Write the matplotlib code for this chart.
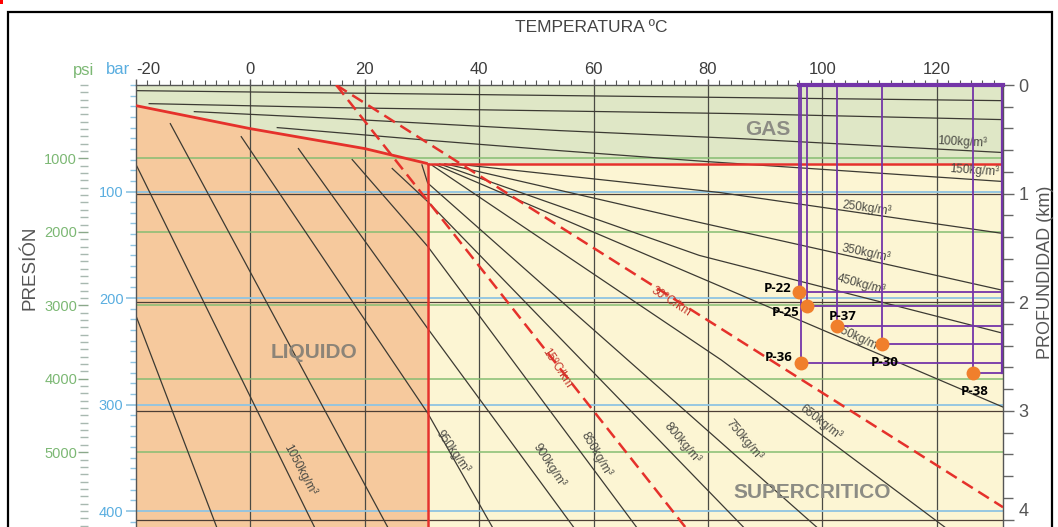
import matplotlib
matplotlib.use("Agg")
import matplotlib.pyplot as plt
from matplotlib.patches import Polygon, Rectangle
from matplotlib.ticker import MultipleLocator, FixedLocator

plt.rcParams['font.family'] = ['Liberation Sans', 'DejaVu Sans']

# ---- axis ranges (temperature in C, pressure in bar) ----
T_MIN, T_MAX = -20.0, 131.6
P_MAX = 415.0
BAR_PER_KM = 102.0
PSI_PER_BAR = 14.5038

# ---- phase boundaries ----
sat_T = [-20.0, 0.0, 20.0, 31.0]
sat_P = [19.4, 41.0, 59.7, 73.8]
crit_T, crit_P = 31.0, 73.8

# ---- geothermal gradients (C/km), surface temperature 15 C ----
surface_T = 15.0
gradients = [15.0, 30.0]

# ---- isochores (T, P) ----
iso_gas_a = [(-20.0, 5.3), (131.6, 14.7)]
iso_gas_b = [(-17.7, 17.5), (15.6, 21.3), (85.5, 26.9), (131.6, 32.5)]
iso_100 = [(-9.8, 25.0), (15.6, 31.6), (54.0, 42.8), (85.5, 50.3), (131.6, 63.4)]
iso_150 = [(4.7, 40.0), (31.8, 52.2), (54.0, 61.6), (79.8, 71.9), (131.6, 90.6)]
iso_250 = [(35.3, 73.8), (82.0, 100.9), (131.6, 139.4)]
iso_350 = [(34.0, 74.0), (78.5, 129.0), (131.6, 192.8)]
iso_450 = [(33.1, 74.2), (78.5, 160.0), (131.6, 233.1)]
iso_550 = [(32.3, 74.6), (80.0, 184.0), (131.6, 302.4)]
iso_650 = [(31.8, 75.5), (82.4, 258.4), (121.4, 415.0)]
iso_750 = [(30.0, 75.0), (31.0, 92.0), (99.0, 415.0)]
iso_800 = [(24.8, 78.4), (31.0, 109.4), (86.2, 415.0)]
iso_850 = [(17.8, 70.0), (31.0, 151.5), (67.5, 415.0)]
iso_900 = [(8.4, 59.7), (31.0, 228.6), (56.5, 415.0)]
iso_950 = [(-1.6, 48.5), (31.0, 308.0), (42.3, 415.0)]
iso_1000 = [(-14.0, 36.3), (24.0, 415.0)]
iso_1050 = [(-19.9, 75.7), (11.2, 415.0)]
iso_1100 = [(-19.9, 218.1), (-5.9, 415.0)]
isochores = [iso_gas_a, iso_gas_b, iso_100, iso_150, iso_250, iso_350, iso_450,
             iso_550, iso_650, iso_750, iso_800, iso_850, iso_900, iso_950,
             iso_1000, iso_1050, iso_1100]

# labels on isochores: text, T, P, angle
iso_labels = [
    ("100kg/m³", 124.5, 53.0, -3),
    ("150kg/m³", 126.5, 80.0, -4),
    ("250kg/m³", 107.8, 116.0, -8),
    ("350kg/m³", 107.7, 158.0, -12),
    ("450kg/m³", 106.8, 187.0, -15),
    ("550kg/m³", 106.2, 237.0, -25),
    ("650kg/m³", 99.7, 317.0, -38),
    ("750kg/m³", 86.4, 333.0, -50),
    ("800kg/m³", 75.6, 336.0, -50),
    ("850kg/m³", 60.5, 347.0, -60),
    ("900kg/m³", 52.3, 357.0, -57),
    ("950kg/m³", 35.5, 344.0, -55),
    ("1050kg/m³", 8.6, 361.0, -62),
]

# ---- wells: name, T (C), P (bar), label offset (px) ----
well_names = ["P-22", "P-25", "P-37", "P-30", "P-36", "P-38"]
well_T = [96.0, 97.4, 102.5, 110.5, 96.2, 126.3]
well_P = [194.7, 207.8, 226.5, 243.4, 261.2, 270.6]
well_offsets = [(-8, 4, 'right'), (-8, -6, 'right'), (-8, 10, 'left'),
                (-12, -18, 'left'), (-8, 6, 'right'), (-12, -18, 'left')]

# ---- colours ----
C_GAS = "#dfe7c6"
C_LIQ = "#f6c99d"
C_SC = "#fcf5d3"
C_RED = "#e5312b"
C_LINE = "#3c3a33"
C_BLUE = "#8fc4e2"
C_GREEN = "#86bd72"
C_DEPTH = "#4d3e35"
C_PURPLE = "#7435a8"
C_ORANGE = "#f07f2c"

W, H = 1058, 527
fig = plt.figure(figsize=(W / 100, H / 100), dpi=100)
ax = fig.add_axes([136 / W, 0.0, (1003 - 136) / W, (H - 85) / H])
ax.set_xlim(T_MIN, T_MAX)
ax.set_ylim(P_MAX, 0)

# region fills
gas_poly = [(T_MIN, 0), (T_MAX, 0), (T_MAX, crit_P)] + \
    list(zip(sat_T[::-1], sat_P[::-1]))
liq_poly = list(zip(sat_T, sat_P)) + [(crit_T, P_MAX), (T_MIN, P_MAX)]
sc_poly = [(crit_T, crit_P), (T_MAX, crit_P), (T_MAX, P_MAX), (crit_T, P_MAX)]
ax.add_patch(Polygon(gas_poly, closed=True, fc=C_GAS, ec='none', zorder=0))
ax.add_patch(Polygon(liq_poly, closed=True, fc=C_LIQ, ec='none', zorder=0))
ax.add_patch(Polygon(sc_poly, closed=True, fc=C_SC, ec='none', zorder=0))

# grid lines
for t in range(0, 121, 20):
    ax.axvline(t, color="#4a4a44", lw=0.9, zorder=1)
for p in [100, 200, 300, 400]:
    ax.axhline(p, color=C_BLUE, lw=1.3, zorder=1)
for psi in [1000, 2000, 3000, 4000, 5000]:
    ax.axhline(psi / PSI_PER_BAR, color=C_GREEN, lw=1.1, zorder=1)
for d in [1, 2, 3, 4]:
    ax.axhline(d * BAR_PER_KM, color=C_DEPTH, lw=0.9, zorder=1)

# isochores
for iso in isochores:
    ts, ps = zip(*iso)
    ax.plot(ts, ps, color=C_LINE, lw=0.9, zorder=2)

# phase boundaries
ax.plot(sat_T, sat_P, color=C_RED, lw=2.0, zorder=3, solid_capstyle='butt')
ax.plot([crit_T, T_MAX], [crit_P, crit_P], color=C_RED, lw=1.8, zorder=3)
ax.plot([crit_T, crit_T], [crit_P, P_MAX], color=C_RED, lw=1.8, zorder=3)

# geothermal gradients
for g in gradients:
    d_end = min(P_MAX / BAR_PER_KM, (T_MAX - surface_T) / g)
    ax.plot([surface_T, surface_T + g * d_end], [0, d_end * BAR_PER_KM],
            color=C_RED, lw=1.8, ls=(0, (5, 2.6)), zorder=3)
ax.text(73.6, 203, "30ºC/km", color="#c4382c", fontsize=8.5, rotation=-33,
        ha='center', va='center', zorder=5)
ax.text(53.5, 266, "15ºC/km", color="#c4382c", fontsize=8.5, rotation=-57,
        ha='center', va='center', zorder=5)

for txt, t, p, ang in iso_labels:
    ax.text(t, p, txt, color="#4a4a44", fontsize=8.6, rotation=ang,
            ha='center', va='center', zorder=5)

# region names
ax.text(90.5, 42, "GAS", color="#8c8c84", fontsize=15, fontweight='bold',
        ha='center', va='center', zorder=5)
ax.text(11.2, 251, "LIQUIDO", color="#8c8478", fontsize=15, fontweight='bold',
        ha='center', va='center', zorder=5)
ax.text(98.2, 383, "SUPERCRITICO", color="#8c8c84", fontsize=15,
        fontweight='bold', ha='center', va='center', zorder=5)

# wells: rectangles to the surface and to the right edge
for t, p in zip(well_T, well_P):
    ax.plot([t, t], [0, p], color=C_PURPLE, lw=1.3, zorder=6)
    ax.plot([t, T_MAX], [p, p], color=C_PURPLE, lw=1.3, zorder=6)
ax.plot([min(well_T), T_MAX], [0.4, 0.4], color=C_PURPLE, lw=3.0, zorder=6,
        clip_on=False)
ax.plot([T_MAX - 0.1, T_MAX - 0.1], [0, max(well_P)], color=C_PURPLE, lw=1.6,
        zorder=6, clip_on=False)
ax.plot(well_T, well_P, 'o', color=C_ORANGE, ms=10, mec='none', zorder=7)
for name, t, p, (dx, dy, ha) in zip(well_names, well_T, well_P, well_offsets):
    ax.annotate(name, (t, p), xytext=(dx, dy), textcoords='offset pixels',
                ha=ha, va='center', fontsize=9.5, fontweight='bold',
                color='black', zorder=8, family=['Open Sans', 'DejaVu Sans'])

# spines
ax.spines['bottom'].set_visible(False)
for s in ['top', 'left', 'right']:
    ax.spines[s].set_color("#555555")
    ax.spines[s].set_linewidth(1.0)

# top temperature axis
ax.xaxis.tick_top()
ax.set_xticks(range(-20, 121, 20))
ax.set_xticklabels([str(v) for v in range(-20, 121, 20)])
ax.xaxis.set_minor_locator(MultipleLocator(2))
ax.tick_params(axis='x', which='major', length=4, width=1.0, color="#555555",
               labelsize=12, labelcolor="#3c3c3c", pad=2)
ax.tick_params(axis='x', which='minor', length=3.5, width=0.8,
               color="#555555")
ax.get_xticklabels()[0].set_ha('left')

# left bar axis
ax.yaxis.set_major_locator(FixedLocator([100, 200, 300, 400]))
ax.yaxis.set_minor_locator(MultipleLocator(10))
ax.tick_params(axis='y', which='major', length=7, width=1.2, color=C_BLUE,
               labelsize=10.5, labelcolor="#5aaee0", pad=2)
ax.tick_params(axis='y', which='minor', length=4, width=1.0, color=C_BLUE)

# psi axis further left
psi_ax = ax.secondary_yaxis(-0.055, functions=(lambda p: p * PSI_PER_BAR,
                                               lambda s: s / PSI_PER_BAR))
psi_ax.spines['left'].set_visible(False)
psi_ax.yaxis.set_major_locator(FixedLocator([1000, 2000, 3000, 4000, 5000]))
psi_ax.yaxis.set_minor_locator(MultipleLocator(100))
psi_ax.tick_params(axis='y', which='major', length=7, width=1.0,
                   color="#8aa88a", labelsize=10.5, labelcolor="#7cb874", pad=1)
psi_ax.tick_params(axis='y', which='minor', length=6, width=1.0,
                   color="#a8b8b0")

# right depth axis
km_ax = ax.secondary_yaxis('right', functions=(lambda p: p / BAR_PER_KM,
                                               lambda d: d * BAR_PER_KM))
km_ax.spines['right'].set_visible(False)
km_ax.yaxis.set_major_locator(FixedLocator([0, 1, 2, 3, 4]))
km_ax.yaxis.set_minor_locator(MultipleLocator(0.2))
km_ax.tick_params(axis='y', which='major', length=8, width=1.0,
                  color="#666666", labelsize=13, labelcolor="#555555", pad=3)
km_ax.tick_params(axis='y', which='minor', length=7, width=1.0,
                  color="#666666")
km_ax.get_yticklabels()[-1].set_va('bottom')

# titles
fig.text(591 / W, 1 - 27 / H, "TEMPERATURA ºC", ha='center', va='center',
         fontsize=12.5, color="#444444")
fig.text(30 / W, 1 - 268 / H, "PRESIÓN", ha='center', va='center',
         rotation=90, fontsize=13.5, color="#555555")
fig.text(1045 / W, 1 - 272 / H, "PROFUNDIDAD (km)", ha='center',
         va='center', rotation=90, fontsize=13, color="#555555")
fig.text(118 / W, 1 - 70 / H, "bar", ha='center', va='center',
         fontsize=12, color="#5aaee0")
fig.text(84 / W, 1 - 70 / H, "psi", ha='center', va='center',
         fontsize=12, color="#7cb874")

# outer frame
fig.patches.append(Rectangle((8 / W, -0.05), (1052 - 8) / W, 1.05 - 12 / H,
                             transform=fig.transFigure, fill=False,
                             ec='black', lw=1.6))
fig.patches.append(Rectangle((0, 1 - 4 / H), 3 / W, 4 / H,
                             transform=fig.transFigure, fc='red', ec='none'))

fig.savefig("out.png", dpi=100)
